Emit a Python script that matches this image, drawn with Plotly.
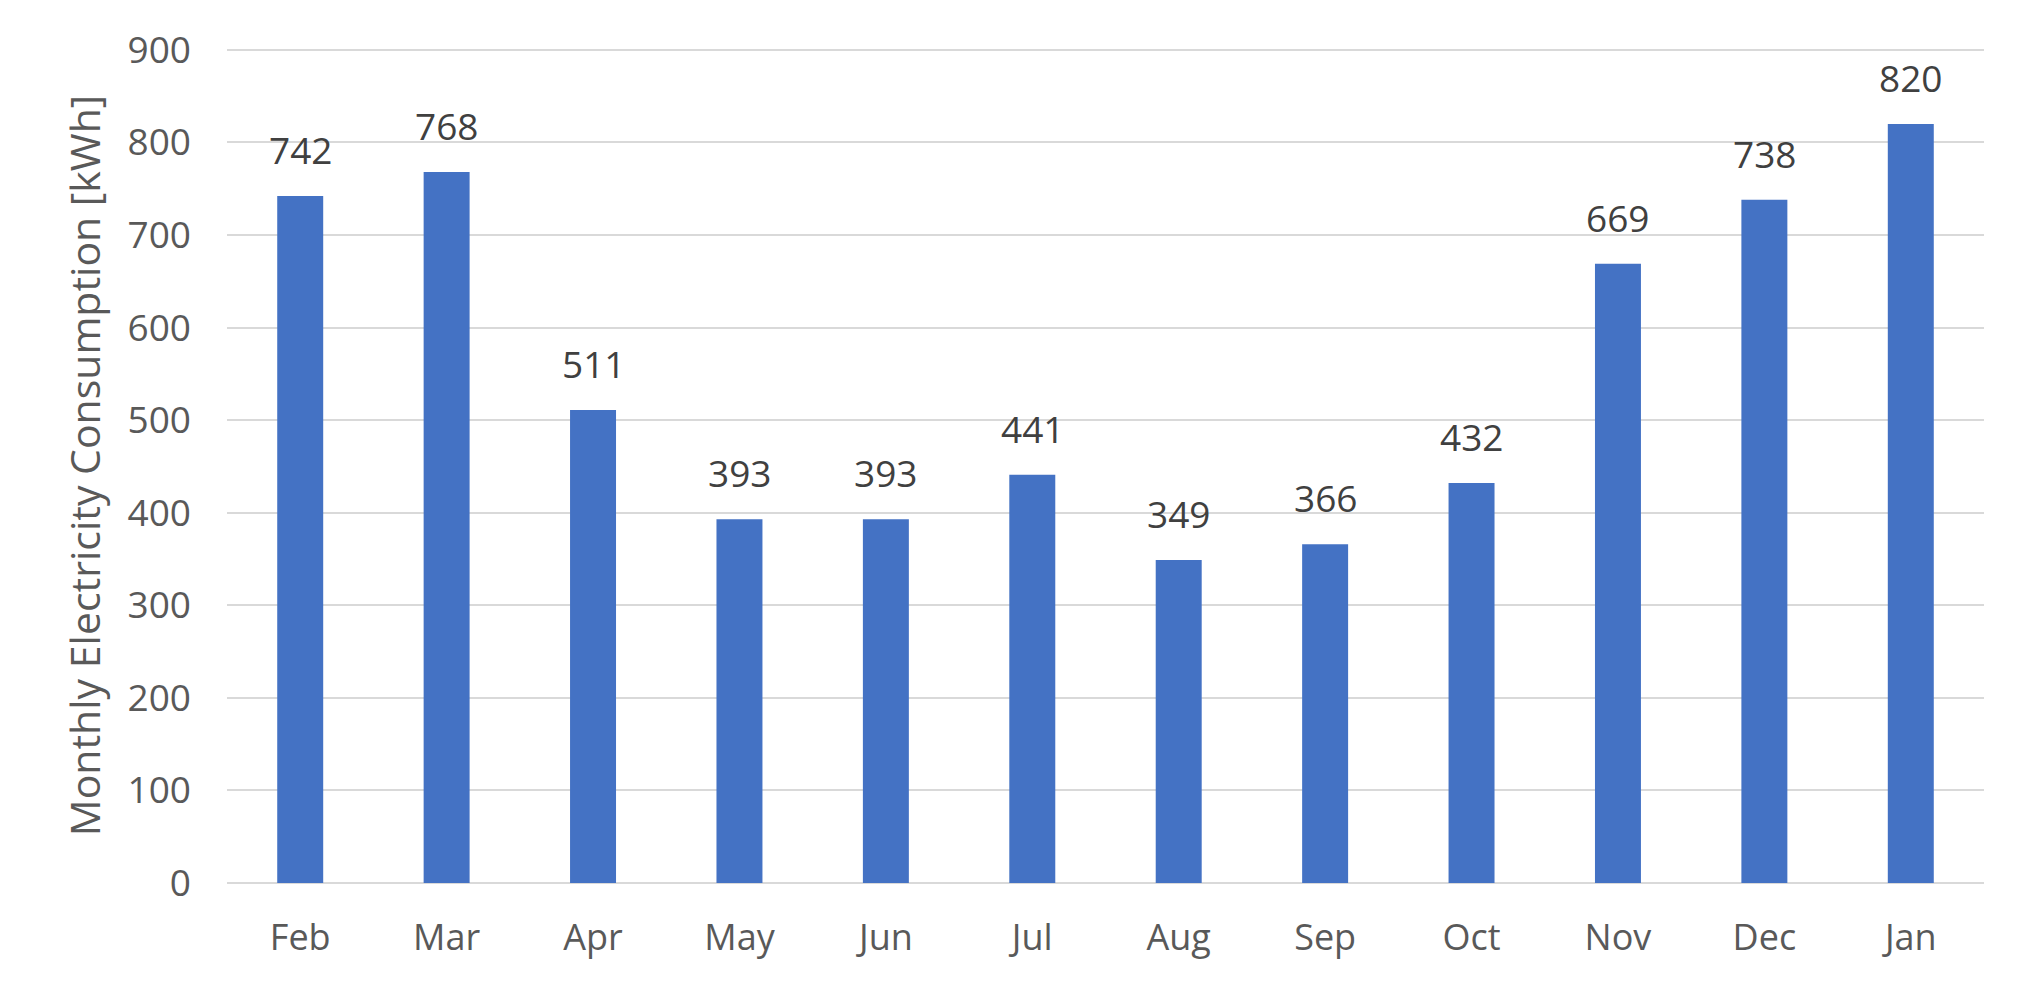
import plotly.graph_objects as go

months = ["Feb", "Mar", "Apr", "May", "Jun", "Jul", "Aug", "Sep", "Oct", "Nov", "Dec", "Jan"]
consumption = [742, 768, 511, 393, 393, 441, 349, 366, 432, 669, 738, 820]
y_ticks = [0, 100, 200, 300, 400, 500, 600, 700, 800, 900]

FONT = "Open Sans"

fig = go.Figure()
fig.add_trace(go.Bar(
    x=months, y=consumption,
    marker=dict(color="#4472C4", line=dict(width=0)),
    showlegend=False,
))

for m, v in zip(months, consumption):
    fig.add_annotation(x=m, y=v, text=str(v), showarrow=False,
                       yanchor="bottom", yshift=19,
                       font=dict(family=FONT, size=37, color="#404040"))

# page body has an 8px default margin, so the figure is sized to fit inside it
fig.update_layout(
    width=2019, height=974,
    margin=dict(l=219, r=43, t=40, b=99),
    paper_bgcolor="white", plot_bgcolor="white",
    bargap=0.686,
    font=dict(family=FONT, size=36, color="#595959"),
)
fig.update_xaxes(showline=False, ticks="", automargin=False,
                 tickfont=dict(size=36, color="#595959"),
                 ticklabelstandoff=30)
fig.update_yaxes(range=[0, 902], tickvals=y_ticks, showgrid=True, gridcolor="#D9D9D9",
                 gridwidth=2, zeroline=True, zerolinecolor="#D9D9D9", zerolinewidth=2,
                 ticks="", automargin=False,
                 tickfont=dict(size=37, color="#595959"), ticklabelstandoff=35,
                 title=dict(text="Monthly Electricity Consumption [kWh]", standoff=14,
                            font=dict(size=41, color="#595959")))

fig.write_html("out.html")
